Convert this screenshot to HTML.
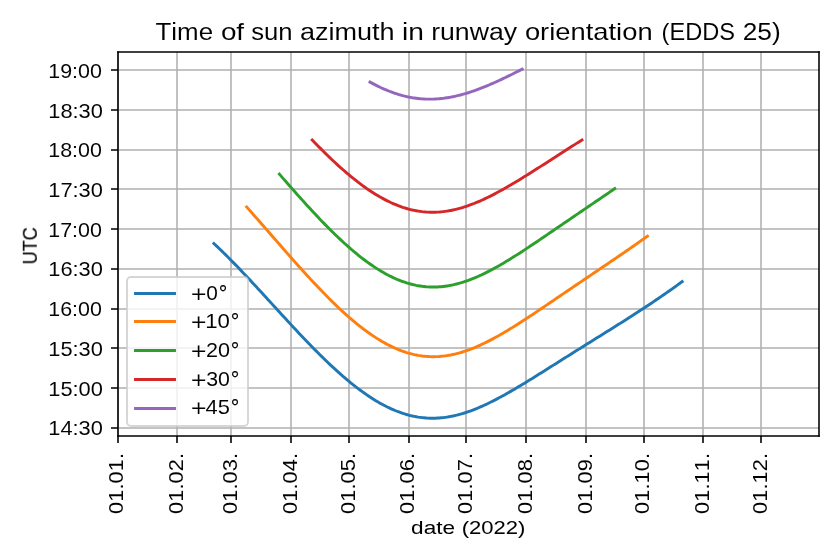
<!DOCTYPE html>
<html lang="en"><head><meta charset="utf-8"><title>Time of sun azimuth in runway orientation (EDDS 25)</title>
<style>html,body{margin:0;padding:0;background:#fff;overflow:hidden}svg{display:block}text{font-family:"Liberation Sans",sans-serif;font-kerning:none;fill:#000;stroke:#fff;stroke-width:0.04;vector-effect:non-scaling-stroke}.xl{stroke:#000;stroke-width:0.05}.yl{stroke:#000;stroke-width:0.13}.p{stroke-width:0.22}.d{stroke:#000;stroke-width:0.2}.g{stroke:#b0b0b0;stroke-width:1.56;fill:none}.k{stroke:#000;stroke-width:1.56;fill:none}.c{fill:none;stroke-width:2.92;stroke-linecap:square;stroke-linejoin:round}</style>
</head><body>
<svg width="840" height="560" viewBox="0 0 840 560">
<rect width="840" height="560" fill="#fff"/>
<path class="g" d="M118 52V436M177 52V436M231 52V436M291 52V436M349 52V436M409 52V436M466 52V436M526 52V436M586 52V436M644 52V436M703 52V436M761 52V436M118 428H819M118 388H819M118 348H819M118 309H819M118 269H819M118 229H819M118 189H819M118 150H819M118 110H819M118 70H819"/>
<polyline class="c" stroke="#1f77b4" points="213.9,243.54 215.83,245.34 217.76,247.16 219.68,249.01 221.61,250.87 223.54,252.74 225.47,254.64 227.39,256.55 229.32,258.48 231.25,260.43 233.17,262.39 235.1,264.37 237.03,266.35 238.95,268.36 240.88,270.37 242.81,272.39 244.74,274.43 246.66,276.47 248.59,278.52 250.52,280.59 252.44,282.66 254.37,284.73 256.3,286.82 258.23,288.9 260.15,291 262.08,293.1 264.01,295.2 265.93,297.3 267.86,299.41 269.79,301.52 271.71,303.62 273.64,305.73 275.57,307.84 277.5,309.95 279.42,312.06 281.35,314.16 283.28,316.26 285.2,318.36 287.13,320.45 289.06,322.54 290.99,324.62 292.91,326.69 294.84,328.76 296.77,330.82 298.69,332.88 300.62,334.92 302.55,336.96 304.47,338.98 306.4,340.99 308.33,342.99 310.26,344.98 312.18,346.96 314.11,348.92 316.04,350.87 317.96,352.81 319.89,354.73 321.82,356.63 323.75,358.52 325.67,360.38 327.6,362.23 329.53,364.07 331.45,365.88 333.38,367.67 335.31,369.44 337.23,371.19 339.16,372.92 341.09,374.62 343.02,376.3 344.94,377.96 346.87,379.59 348.8,381.2 350.72,382.78 352.65,384.33 354.58,385.86 356.51,387.36 358.43,388.83 360.36,390.27 362.29,391.68 364.21,393.06 366.14,394.4 368.07,395.72 369.99,397 371.92,398.25 373.85,399.47 375.78,400.65 377.7,401.8 379.63,402.91 381.56,403.99 383.48,405.03 385.41,406.03 387.34,407 389.27,407.93 391.19,408.82 393.12,409.67 395.05,410.49 396.97,411.26 398.9,411.99 400.83,412.69 402.75,413.34 404.68,413.95 406.61,414.53 408.54,415.06 410.46,415.55 412.39,416 414.32,416.4 416.24,416.77 418.17,417.1 420.1,417.38 422.03,417.62 423.95,417.82 425.88,417.98 427.81,418.1 429.73,418.18 431.66,418.22 433.59,418.21 435.51,418.17 437.44,418.08 439.37,417.96 441.3,417.8 443.22,417.6 445.15,417.36 447.08,417.08 449,416.76 450.93,416.41 452.86,416.03 454.79,415.6 456.71,415.15 458.64,414.65 460.57,414.13 462.49,413.57 464.42,412.98 466.35,412.36 468.28,411.71 470.2,411.02 472.13,410.31 474.06,409.58 475.98,408.81 477.91,408.02 479.84,407.2 481.76,406.36 483.69,405.49 485.62,404.61 487.55,403.7 489.47,402.77 491.4,401.81 493.33,400.84 495.25,399.86 497.18,398.85 499.11,397.83 501.04,396.79 502.96,395.73 504.89,394.67 506.82,393.58 508.74,392.49 510.67,391.38 512.6,390.27 514.52,389.14 516.45,388 518.38,386.86 520.31,385.71 522.23,384.54 524.16,383.38 526.09,382.2 528.01,381.02 529.94,379.84 531.87,378.65 533.8,377.45 535.72,376.25 537.65,375.05 539.58,373.85 541.5,372.64 543.43,371.43 545.36,370.22 547.28,369.01 549.21,367.8 551.14,366.59 553.07,365.37 554.99,364.16 556.92,362.95 558.85,361.73 560.77,360.52 562.7,359.31 564.63,358.09 566.56,356.88 568.48,355.67 570.41,354.46 572.34,353.25 574.26,352.04 576.19,350.84 578.12,349.63 580.04,348.42 581.97,347.22 583.9,346.01 585.83,344.81 587.75,343.61 589.68,342.41 591.61,341.21 593.53,340 595.46,338.8 597.39,337.6 599.32,336.4 601.24,335.2 603.17,334 605.1,332.8 607.02,331.59 608.95,330.39 610.88,329.18 612.8,327.98 614.73,326.77 616.66,325.56 618.59,324.34 620.51,323.13 622.44,321.91 624.37,320.69 626.29,319.47 628.22,318.24 630.15,317.01 632.08,315.78 634,314.54 635.93,313.3 637.86,312.05 639.78,310.8 641.71,309.54 643.64,308.28 645.56,307.01 647.49,305.74 649.42,304.46 651.35,303.17 653.27,301.88 655.2,300.58 657.13,299.28 659.05,297.97 660.98,296.65 662.91,295.32 664.84,293.99 666.76,292.65 668.69,291.3 670.62,289.94 672.54,288.58 674.47,287.21 676.4,285.83 678.32,284.44 680.25,283.05 682.18,281.64"/>
<polyline class="c" stroke="#ff7f0e" points="246.66,206.99 248.59,209.15 250.52,211.31 252.44,213.49 254.37,215.67 256.3,217.85 258.23,220.04 260.15,222.24 262.08,224.44 264.01,226.65 265.93,228.85 267.86,231.06 269.79,233.27 271.71,235.49 273.64,237.7 275.57,239.91 277.5,242.12 279.42,244.33 281.35,246.53 283.28,248.74 285.2,250.94 287.13,253.13 289.06,255.32 290.99,257.5 292.91,259.68 294.84,261.85 296.77,264.01 298.69,266.17 300.62,268.31 302.55,270.45 304.47,272.57 306.4,274.68 308.33,276.79 310.26,278.87 312.18,280.95 314.11,283.01 316.04,285.06 317.96,287.09 319.89,289.11 321.82,291.11 323.75,293.1 325.67,295.06 327.6,297.01 329.53,298.94 331.45,300.84 333.38,302.73 335.31,304.6 337.23,306.44 339.16,308.26 341.09,310.06 343.02,311.83 344.94,313.58 346.87,315.31 348.8,317 350.72,318.68 352.65,320.32 354.58,321.93 356.51,323.52 358.43,325.07 360.36,326.6 362.29,328.1 364.21,329.56 366.14,330.99 368.07,332.39 369.99,333.75 371.92,335.08 373.85,336.38 375.78,337.64 377.7,338.86 379.63,340.05 381.56,341.2 383.48,342.31 385.41,343.38 387.34,344.42 389.27,345.42 391.19,346.37 393.12,347.29 395.05,348.16 396.97,349 398.9,349.79 400.83,350.54 402.75,351.25 404.68,351.91 406.61,352.54 408.54,353.12 410.46,353.65 412.39,354.15 414.32,354.6 416.24,355 418.17,355.37 420.1,355.68 422.03,355.96 423.95,356.19 425.88,356.38 427.81,356.52 429.73,356.62 431.66,356.68 433.59,356.69 435.51,356.66 437.44,356.59 439.37,356.48 441.3,356.32 443.22,356.13 445.15,355.89 447.08,355.61 449,355.29 450.93,354.94 452.86,354.54 454.79,354.11 456.71,353.64 458.64,353.13 460.57,352.58 462.49,352 464.42,351.39 466.35,350.74 468.28,350.06 470.2,349.35 472.13,348.6 474.06,347.83 475.98,347.03 477.91,346.19 479.84,345.33 481.76,344.45 483.69,343.53 485.62,342.6 487.55,341.64 489.47,340.65 491.4,339.64 493.33,338.62 495.25,337.57 497.18,336.5 499.11,335.42 501.04,334.31 502.96,333.19 504.89,332.06 506.82,330.91 508.74,329.74 510.67,328.57 512.6,327.37 514.52,326.17 516.45,324.96 518.38,323.74 520.31,322.51 522.23,321.26 524.16,320.02 526.09,318.76 528.01,317.5 529.94,316.23 531.87,314.95 533.8,313.67 535.72,312.39 537.65,311.1 539.58,309.81 541.5,308.51 543.43,307.21 545.36,305.91 547.28,304.61 549.21,303.31 551.14,302 553.07,300.69 554.99,299.39 556.92,298.08 558.85,296.77 560.77,295.46 562.7,294.15 564.63,292.85 566.56,291.54 568.48,290.23 570.41,288.92 572.34,287.62 574.26,286.31 576.19,285.01 578.12,283.7 580.04,282.4 581.97,281.1 583.9,279.79 585.83,278.49 587.75,277.19 589.68,275.89 591.61,274.59 593.53,273.29 595.46,271.99 597.39,270.68 599.32,269.38 601.24,268.08 603.17,266.78 605.1,265.48 607.02,264.17 608.95,262.87 610.88,261.56 612.8,260.25 614.73,258.94 616.66,257.63 618.59,256.32 620.51,255 622.44,253.68 624.37,252.36 626.29,251.03 628.22,249.7 630.15,248.37 632.08,247.04 634,245.7 635.93,244.35 637.86,243 639.78,241.65 641.71,240.29 643.64,238.93 645.56,237.56 647.49,236.18"/>
<polyline class="c" stroke="#2ca02c" points="279.42,174.16 281.35,176.38 283.28,178.59 285.2,180.8 287.13,183 289.06,185.2 290.99,187.4 292.91,189.58 294.84,191.76 296.77,193.93 298.69,196.1 300.62,198.25 302.55,200.39 304.47,202.53 306.4,204.65 308.33,206.76 310.26,208.86 312.18,210.94 314.11,213.02 316.04,215.07 317.96,217.12 319.89,219.14 321.82,221.15 323.75,223.14 325.67,225.12 327.6,227.07 329.53,229.01 331.45,230.93 333.38,232.82 335.31,234.7 337.23,236.55 339.16,238.38 341.09,240.18 343.02,241.97 344.94,243.72 346.87,245.45 348.8,247.16 350.72,248.84 352.65,250.49 354.58,252.11 356.51,253.7 358.43,255.27 360.36,256.8 362.29,258.3 364.21,259.77 366.14,261.21 368.07,262.61 369.99,263.99 371.92,265.32 373.85,266.62 375.78,267.89 377.7,269.12 379.63,270.31 381.56,271.47 383.48,272.59 385.41,273.67 387.34,274.71 389.27,275.71 391.19,276.67 393.12,277.59 395.05,278.47 396.97,279.31 398.9,280.1 400.83,280.86 402.75,281.57 404.68,282.24 406.61,282.87 408.54,283.45 410.46,283.99 412.39,284.49 414.32,284.94 416.24,285.35 418.17,285.71 420.1,286.03 422.03,286.31 423.95,286.54 425.88,286.73 427.81,286.87 429.73,286.98 431.66,287.03 433.59,287.05 435.51,287.02 437.44,286.95 439.37,286.83 441.3,286.68 443.22,286.48 445.15,286.24 447.08,285.96 449,285.64 450.93,285.28 452.86,284.89 454.79,284.45 456.71,283.97 458.64,283.46 460.57,282.92 462.49,282.33 464.42,281.72 466.35,281.06 468.28,280.38 470.2,279.66 472.13,278.92 474.06,278.14 475.98,277.33 477.91,276.49 479.84,275.63 481.76,274.73 483.69,273.82 485.62,272.87 487.55,271.91 489.47,270.91 491.4,269.9 493.33,268.87 495.25,267.81 497.18,266.74 499.11,265.65 501.04,264.54 502.96,263.41 504.89,262.27 506.82,261.11 508.74,259.94 510.67,258.75 512.6,257.56 514.52,256.35 516.45,255.13 518.38,253.9 520.31,252.66 522.23,251.41 524.16,250.15 526.09,248.89 528.01,247.61 529.94,246.34 531.87,245.05 533.8,243.77 535.72,242.47 537.65,241.18 539.58,239.87 541.5,238.57 543.43,237.26 545.36,235.95 547.28,234.64 549.21,233.33 551.14,232.02 553.07,230.7 554.99,229.38 556.92,228.07 558.85,226.75 560.77,225.43 562.7,224.12 564.63,222.8 566.56,221.48 568.48,220.17 570.41,218.85 572.34,217.53 574.26,216.22 576.19,214.9 578.12,213.59 580.04,212.28 581.97,210.97 583.9,209.65 585.83,208.34 587.75,207.03 589.68,205.72 591.61,204.41 593.53,203.1 595.46,201.79 597.39,200.48 599.32,199.17 601.24,197.86 603.17,196.54 605.1,195.23 607.02,193.92 608.95,192.6 610.88,191.29 612.8,189.97 614.73,188.65"/>
<polyline class="c" stroke="#d62728" points="312.18,140.03 314.11,142.02 316.04,143.99 317.96,145.95 319.89,147.89 321.82,149.82 323.75,151.73 325.67,153.62 327.6,155.5 329.53,157.35 331.45,159.19 333.38,161 335.31,162.8 337.23,164.57 339.16,166.32 341.09,168.05 343.02,169.75 344.94,171.43 346.87,173.08 348.8,174.71 350.72,176.31 352.65,177.89 354.58,179.43 356.51,180.95 358.43,182.44 360.36,183.9 362.29,185.33 364.21,186.73 366.14,188.09 368.07,189.43 369.99,190.73 371.92,192 373.85,193.23 375.78,194.43 377.7,195.6 379.63,196.72 381.56,197.82 383.48,198.87 385.41,199.89 387.34,200.87 389.27,201.81 391.19,202.72 393.12,203.58 395.05,204.41 396.97,205.19 398.9,205.94 400.83,206.64 402.75,207.31 404.68,207.93 406.61,208.51 408.54,209.05 410.46,209.55 412.39,210.01 414.32,210.42 416.24,210.79 418.17,211.12 420.1,211.41 422.03,211.66 423.95,211.86 425.88,212.03 427.81,212.15 429.73,212.23 431.66,212.27 433.59,212.26 435.51,212.22 437.44,212.13 439.37,212.01 441.3,211.84 443.22,211.64 445.15,211.4 447.08,211.12 449,210.8 450.93,210.44 452.86,210.05 454.79,209.62 456.71,209.15 458.64,208.65 460.57,208.12 462.49,207.55 464.42,206.95 466.35,206.32 468.28,205.66 470.2,204.97 472.13,204.24 474.06,203.49 475.98,202.72 477.91,201.91 479.84,201.08 481.76,200.22 483.69,199.34 485.62,198.44 487.55,197.51 489.47,196.57 491.4,195.6 493.33,194.61 495.25,193.61 497.18,192.58 499.11,191.54 501.04,190.48 502.96,189.41 504.89,188.32 506.82,187.22 508.74,186.11 510.67,184.98 512.6,183.85 514.52,182.7 516.45,181.54 518.38,180.38 520.31,179.2 522.23,178.02 524.16,176.83 526.09,175.63 528.01,174.43 529.94,173.22 531.87,172.01 533.8,170.79 535.72,169.57 537.65,168.34 539.58,167.12 541.5,165.89 543.43,164.65 545.36,163.42 547.28,162.18 549.21,160.95 551.14,159.71 553.07,158.47 554.99,157.23 556.92,156 558.85,154.76 560.77,153.52 562.7,152.28 564.63,151.04 566.56,149.81 568.48,148.57 570.41,147.33 572.34,146.1 574.26,144.86 576.19,143.63 578.12,142.4 580.04,141.17 581.97,139.94"/>
<polyline class="c" stroke="#9467bd" points="369.99,82.06 371.92,83.12 373.85,84.15 375.78,85.15 377.7,86.12 379.63,87.06 381.56,87.96 383.48,88.83 385.41,89.67 387.34,90.47 389.27,91.24 391.19,91.98 393.12,92.68 395.05,93.34 396.97,93.97 398.9,94.56 400.83,95.12 402.75,95.65 404.68,96.13 406.61,96.58 408.54,97 410.46,97.37 412.39,97.72 414.32,98.02 416.24,98.29 418.17,98.52 420.1,98.72 422.03,98.88 423.95,99 425.88,99.09 427.81,99.15 429.73,99.16 431.66,99.15 433.59,99.09 435.51,99.01 437.44,98.89 439.37,98.73 441.3,98.55 443.22,98.33 445.15,98.07 447.08,97.79 449,97.47 450.93,97.13 452.86,96.75 454.79,96.34 456.71,95.91 458.64,95.45 460.57,94.96 462.49,94.44 464.42,93.89 466.35,93.32 468.28,92.73 470.2,92.11 472.13,91.47 474.06,90.81 475.98,90.12 477.91,89.41 479.84,88.69 481.76,87.94 483.69,87.17 485.62,86.39 487.55,85.59 489.47,84.77 491.4,83.94 493.33,83.1 495.25,82.24 497.18,81.36 499.11,80.48 501.04,79.58 502.96,78.67 504.89,77.75 506.82,76.82 508.74,75.88 510.67,74.94 512.6,73.99 514.52,73.02 516.45,72.06 518.38,71.09 520.31,70.11 522.23,69.12"/>
<path class="k" d="M118 436V443M177 436V443M231 436V443M291 436V443M349 436V443M409 436V443M466 436V443M526 436V443M586 436V443M644 436V443M703 436V443M761 436V443M118 428H111M118 388H111M118 348H111M118 309H111M118 269H111M118 229H111M118 189H111M118 150H111M118 110H111M118 70H111"/>
<path class="k" stroke-linecap="square" d="M118 52V436"/>
<path class="k" stroke-linecap="square" d="M819 52V436"/>
<path class="k" stroke-linecap="square" d="M118 436H819"/>
<path class="k" stroke-linecap="square" d="M118 52H819"/>
<rect x="127" y="277" width="121" height="149" rx="3.89" ry="3.89" fill="#fff" fill-opacity="0.8" stroke="#ccc" stroke-opacity="0.8" stroke-width="1.94"/>
<path class="c" stroke="#1f77b4" d="M135.5 293.5H174.5"/>
<path class="c" stroke="#ff7f0e" d="M135.5 321.5H174.5"/>
<path class="c" stroke="#2ca02c" d="M135.5 350.5H174.5"/>
<path class="c" stroke="#d62728" d="M135.5 379.5H174.5"/>
<path class="c" stroke="#9467bd" d="M135.5 408.5H174.5"/>
<g opacity="0.999">
<text transform="translate(155.48 39.86) scale(1.0596 1)" font-size="24.47">Time</text>
<text transform="translate(220.89 39.86) scale(1.1381 1)" font-size="24.47">of</text>
<text transform="translate(251.23 39.86) scale(1.0486 1)" font-size="24.47">sun</text>
<text transform="translate(299.92 39.86) scale(1.1059 1)" font-size="24.47">azimuth</text>
<text transform="translate(402.03 39.86) scale(1.1495 1)" font-size="24.47">in</text>
<text transform="translate(431.13 39.86) scale(1.0899 1)" font-size="24.47">runway</text>
<text transform="translate(524.91 39.86) scale(1.1179 1)" font-size="24.47">orientation</text>
<text transform="translate(661.58 39.86) scale(0.9640 1)" font-size="24.47">(EDDS</text>
<text transform="translate(742.68 39.86) scale(1.0755 1)" font-size="24.47">25)</text>
<text class="xl" transform="translate(411.1 533.98) scale(1.1792 1)" font-size="19.15">date</text>
<text class="xl" transform="translate(461.68 533.98) scale(1.1500 1)" font-size="19.15">(2022)</text>
<text class="yl" transform="translate(36.8 264.45) rotate(-90) scale(0.9197 1)" font-size="19.72">UTC</text>
<text transform="translate(122.8 513.88) rotate(-90) scale(1.1100 1)" font-size="19.72">01.01.</text>
<text transform="translate(182.8 513.88) rotate(-90) scale(1.1100 1)" font-size="19.72">01.02.</text>
<text transform="translate(236.8 513.88) rotate(-90) scale(1.1100 1)" font-size="19.72">01.03.</text>
<text transform="translate(296.8 513.88) rotate(-90) scale(1.1100 1)" font-size="19.72">01.04.</text>
<text transform="translate(354.8 513.88) rotate(-90) scale(1.1100 1)" font-size="19.72">01.05.</text>
<text transform="translate(413.8 513.88) rotate(-90) scale(1.1100 1)" font-size="19.72">01.06.</text>
<text transform="translate(471.8 513.88) rotate(-90) scale(1.1100 1)" font-size="19.72">01.07.</text>
<text transform="translate(531.8 513.88) rotate(-90) scale(1.1100 1)" font-size="19.72">01.08.</text>
<text transform="translate(591.8 513.88) rotate(-90) scale(1.1100 1)" font-size="19.72">01.09.</text>
<text transform="translate(648.8 513.88) rotate(-90) scale(1.1100 1)" font-size="19.72">01.10.</text>
<text transform="translate(708.8 513.88) rotate(-90) scale(1.1100 1)" font-size="19.72">01.11.</text>
<text transform="translate(766.8 513.88) rotate(-90) scale(1.1100 1)" font-size="19.72">01.12.</text>
<text transform="translate(48.25 434.8) scale(1.1080 1)" font-size="19.72">14:30</text>
<text transform="translate(48.25 395.8) scale(1.1080 1)" font-size="19.72">15:00</text>
<text transform="translate(48.25 355.8) scale(1.1080 1)" font-size="19.72">15:30</text>
<text transform="translate(48.29 315.8) scale(1.0867 1)" font-size="19.72">16:00</text>
<text transform="translate(48.25 275.8) scale(1.1080 1)" font-size="19.72">16:30</text>
<text transform="translate(48.29 236.8) scale(1.0867 1)" font-size="19.72">17:00</text>
<text transform="translate(48.25 196.8) scale(1.1080 1)" font-size="19.72">17:30</text>
<text transform="translate(48.29 156.8) scale(1.0867 1)" font-size="19.72">18:00</text>
<text transform="translate(48.25 117.8) scale(1.1080 1)" font-size="19.72">18:30</text>
<text transform="translate(48.29 77.8) scale(1.0867 1)" font-size="19.72">19:00</text>
<text class="p" transform="translate(190.65 302.2) scale(1.1059 1)" font-size="24.49">+</text>
<text transform="translate(206.17 299.8) scale(1.0565 1)" font-size="19.72">0</text>
<text class="d" transform="translate(218.71 301) scale(1.0000 1)" font-size="21.43">°</text>
<text class="p" transform="translate(190.65 330.2) scale(1.1059 1)" font-size="24.49">+</text>
<text transform="translate(205.22 327.8) scale(1.1270 1)" font-size="19.72">10</text>
<text class="d" transform="translate(230.71 329) scale(1.0000 1)" font-size="21.43">°</text>
<text class="p" transform="translate(190.65 359.2) scale(1.1059 1)" font-size="24.49">+</text>
<text transform="translate(205.92 356.8) scale(1.0938 1)" font-size="19.72">20</text>
<text class="d" transform="translate(230.71 358) scale(1.0000 1)" font-size="21.43">°</text>
<text class="p" transform="translate(190.65 388.2) scale(1.1059 1)" font-size="24.49">+</text>
<text transform="translate(206.15 385.8) scale(1.0832 1)" font-size="19.72">30</text>
<text class="d" transform="translate(230.71 387) scale(1.0000 1)" font-size="21.43">°</text>
<text class="p" transform="translate(190.65 416.2) scale(1.1059 1)" font-size="24.49">+</text>
<text transform="translate(205.56 413.8) scale(1.0952 1)" font-size="20">45</text>
<text class="d" transform="translate(230.71 415) scale(1.0000 1)" font-size="21.43">°</text>
</g>
</svg></body></html>
